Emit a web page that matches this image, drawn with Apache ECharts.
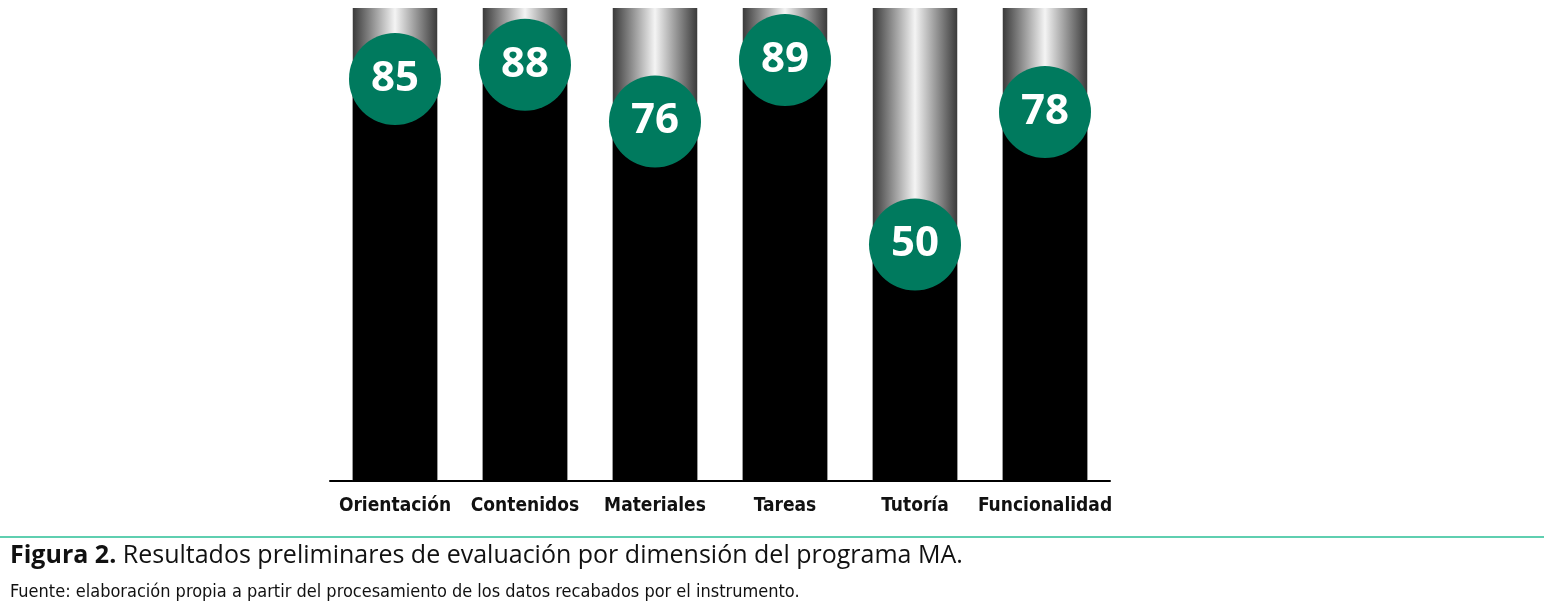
<!DOCTYPE html>
<html><head><meta charset="utf-8">
<script src="https://cdn.jsdelivr.net/npm/echarts@6/dist/echarts.min.js"></script>
<style>html,body{margin:0;background:#fff}#c{width:1544px;height:606px}</style>
</head><body><div id="c"></div>
<script>
// Resultados por dimensión
const dims = ['Orientación', 'Contenidos', 'Materiales', 'Tareas', 'Tutoría', 'Funcionalidad'];
const values = [85, 88, 76, 89, 50, 78];

const chart = echarts.init(document.getElementById('c'));

const greyFill = new echarts.graphic.LinearGradient(0, 0, 1, 0, [
    { offset: 0, color: '#3a3a3a' },
    { offset: 0.5, color: '#f4f4f4' },
    { offset: 1, color: '#3a3a3a' }
]);

chart.setOption({
    animation: false,
    grid: { left: 330, width: 780, top: 8, bottom: 125 },
    xAxis: {
        type: 'category',
        data: dims,
        axisLine: { lineStyle: { color: '#000', width: 2 } },
        axisTick: { show: false },
        axisLabel: {
            interval: 0,
            color: '#111', fontSize: 19, fontWeight: 'bold', margin: 16,
            fontFamily: 'DejaVu Sans Condensed, sans-serif'
        }
    },
    yAxis: { type: 'value', min: 0, max: 100, show: false },
    series: [
        {
            type: 'bar', data: dims.map(() => 100), barWidth: '65%',
            itemStyle: { color: greyFill }, silent: true
        },
        {
            type: 'bar', data: values, barWidth: '65%', barGap: '-100%',
            itemStyle: { color: '#000' }
        },
        {
            type: 'scatter', data: values, symbolSize: 92,
            itemStyle: { color: '#007a5e', opacity: 1 },
            label: {
                show: true, position: 'inside', formatter: '{c}',
                color: '#fff', fontSize: 42, fontWeight: 'bold',
                fontFamily: 'Open Sans, sans-serif'
            }
        }
    ],
    graphic: [
        { type: 'rect', shape: { x: 0, y: 536, width: 1544, height: 2 }, style: { fill: '#5fcfb0' } },
        {
            type: 'text', left: 10, top: 543,
            style: {
                text: '{b|Figura 2.} Resultados preliminares de evaluación por dimensión del programa MA.',
                rich: { b: { fontWeight: 'bold', fontSize: 25, fill: '#111', fontFamily: 'Open Sans' } },
                fontSize: 25, fill: '#111', fontFamily: 'Open Sans'
            }
        },
        {
            type: 'text', left: 10, top: 583,
            style: {
                text: 'Fuente: elaboración propia a partir del procesamiento de los datos recabados por el instrumento.',
                fontSize: 18, fill: '#111', fontFamily: 'DejaVu Sans Condensed, sans-serif'
            }
        }
    ]
});
</script></body></html>
